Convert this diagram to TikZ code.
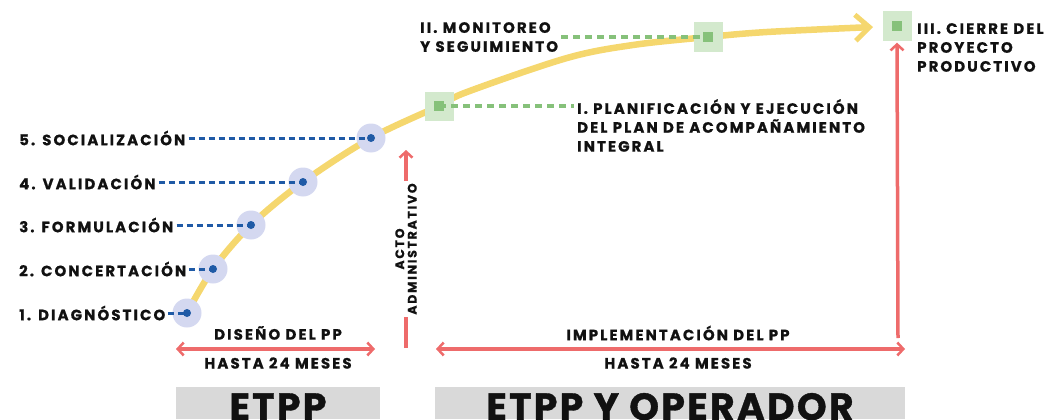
\documentclass[tikz,border=0pt]{standalone}
\usepackage{fontspec}
\setmainfont{Poppins}
\newfontfamily\lblfont{Poppins}[LetterSpace=14,BoldFont={Poppins Bold},BoldFeatures={FakeBold=0.8}]
\newfontfamily\bigfont{Poppins}[LetterSpace=6,BoldFont={Poppins Bold},BoldFeatures={FakeBold=1}]
\usetikzlibrary{arrows.meta}

\definecolor{roadcol}{HTML}{F5D76E}
\definecolor{redcol}{HTML}{EE6B6B}
\definecolor{bluecol}{HTML}{1F5AA6}
\definecolor{lavcol}{HTML}{D4D8F0}
\definecolor{palegcol}{HTML}{D3E9CD}
\definecolor{greencol}{HTML}{86C17A}
\definecolor{boxcol}{HTML}{D9D9D9}
\definecolor{inkcol}{HTML}{111111}

\tikzset{
  lbl/.style={font=\lblfont\bfseries\fontsize{15}{19}\selectfont,text=inkcol,
    inner xsep=3bp,inner ysep=0pt,align=left},
  under/.style={font=\lblfont\bfseries\fontsize{15}{19}\selectfont,text=inkcol,
    inner sep=0pt},
  small/.style={font=\lblfont\bfseries\fontsize{12.5}{12.5}\selectfont,text=inkcol,
    inner sep=2bp,align=center},
  big/.style={font=\bigfont\bfseries\fontsize{38}{38}\selectfont,text=inkcol,inner sep=0pt},
  road/.style={draw=roadcol,line width=6.5bp,
    -{Straight Barb[length=14bp,width=26bp,line width=5bp]}},
  redline/.style={draw=redcol,line width=3.5bp},
  redtip/.style={-{Straight Barb[length=6bp,width=13bp,line width=2.5bp]}},
  redtips/.style={{Straight Barb[length=6bp,width=13bp,line width=2.5bp]}-{Straight Barb[length=6bp,width=13bp,line width=2.5bp]}},
  halo/.style={circle,fill=lavcol,minimum size=29bp,inner sep=0pt},
  bluedot/.style={circle,fill=bluecol,minimum size=8bp,inner sep=0pt},
  bluedash/.style={draw=bluecol,line width=3bp,dash pattern=on 6bp off 4bp},
  sq/.style={rectangle,fill=palegcol,minimum size=29bp,inner sep=0pt},
  sqdot/.style={rectangle,fill=greencol,minimum size=10bp,inner sep=0pt},
  greendash/.style={draw=greencol,line width=3.5bp,dash pattern=on 7bp off 5bp}
}

\begin{document}
\begin{tikzpicture}[line join=bevel,x=1bp,y=1bp]
  \clip (0,0) rectangle (1049,419);
  \useasboundingbox (0,0) rectangle (1049,419);
%%
  % Grey boxes
  \fill[boxcol] (176,0) rectangle (380,32);
  \fill[boxcol] (435,0) rectangle (905,32);
  \node[big,anchor=base] (etpp) at (278,-1) {ETPP};
  \node[big,anchor=base] (oper) at (670,-1) {ETPP Y OPERADOR};
%%
  % Points on the road
  \coordinate (p1) at (187,106);
  \coordinate (p2) at (213,150);
  \coordinate (p3) at (251,194);
  \coordinate (p4) at (303,237);
  \coordinate (p5) at (371,281);
  \coordinate (q1) at (439,313);
  \coordinate (q2) at (708,382);
  \coordinate (q3) at (897,393);
  \coordinate (e) at (873,392);
  % Edge: p1 -> e
  \draw[road] plot[smooth,tension=0.55] coordinates {(p1) (p2) (p3) (p4) (p5) (q1)
    (467,327) (567,361) (633,374) (q2) (767,387) (e)};
%%
  % Node: halos
  \foreach \p in {1,...,5}
    \node[halo] (h\p) at (p\p) {};
  % Node: squares
  \node[sq] (s1) at (q1) {};
  \node[sq] (s2) at (q2) {};
  \node[sq] (s3) at (q3) {};
%%
  % Node: phase labels
  \node[lbl,anchor=west] (t1) at (16,106) {1. DIAGNÓSTICO};
  \node[lbl,anchor=west] (t2) at (16,150) {2. CONCERTACIÓN};
  \node[lbl,anchor=west] (t3) at (16,194) {3. FORMULACIÓN};
  \node[lbl,anchor=west] (t4) at (16,237) {4. VALIDACIÓN};
  \node[lbl,anchor=west] (t5) at (16,281) {5. SOCIALIZACIÓN};
  % Edge: t -> p
  \foreach \p in {1,...,5}
    \draw[bluedash] (t\p.east) -- (p\p);
  \foreach \p in {1,...,5}
    \node[bluedot] (d\p) at (p\p) {};
%%
  % Node: stage labels
  \node[lbl,anchor=north west] (tI) at (574,320) {I. PLANIFICACIÓN Y EJECUCIÓN\\DEL PLAN DE ACOMPAÑAMIENTO\\INTEGRAL};
  \node[lbl,anchor=north west] (tII) at (417,397) {II. MONITOREO\\Y SEGUIMIENTO};
  \node[lbl,anchor=north west] (tIII) at (914,396) {III. CIERRE DEL\\PROYECTO\\PRODUCTIVO};
  % Edge: s1 -> tI
  \draw[greendash] (s1.center) -- (tI.west |- s1.center);
  % Edge: tII -> s2
  \draw[greendash] (tII.east |- s2.center) -- (s2.center);
  \foreach \s in {1,2,3}
    \node[sqdot] (g\s) at (q\s) {};
%%
  % Node: acto administrativo
  \coordinate (a0) at (406,71);
  \coordinate (a1) at (406,269);
  \node[small,rotate=90] (acto) at (406,170) {ACTO\\ADMINISTRATIVO};
  % Edge: a0 -> acto -> a1
  \draw[redline] (a0) -- (acto.west);
  \draw[redline,redtip] (acto.east) -- (a1);
%%
  % Node: durations
  \coordinate (l0) at (176,70);
  \coordinate (l1) at (375,70);
  \coordinate (m0) at (436,70);
  \coordinate (m1) at (905,70);
  \coordinate (r0) at (898,81);
  \draw[redline,redtips] (l0) -- (l1);
  \draw[redline,redtips] (m0) -- (m1);
  % Edge: r0 -> s3
  \draw[redline,redtip,shorten >=2bp] (r0) -- (s3.south);
  \node[under] (dis) at (278,86) {DISEÑO DEL PP};
  \node[under] (has1) at (278,56) {HASTA 24 MESES};
  \node[under] (imp) at (678,86) {IMPLEMENTACIÓN DEL PP};
  \node[under] (has2) at (678,56) {HASTA 24 MESES};
%
\end{tikzpicture}
\end{document}
